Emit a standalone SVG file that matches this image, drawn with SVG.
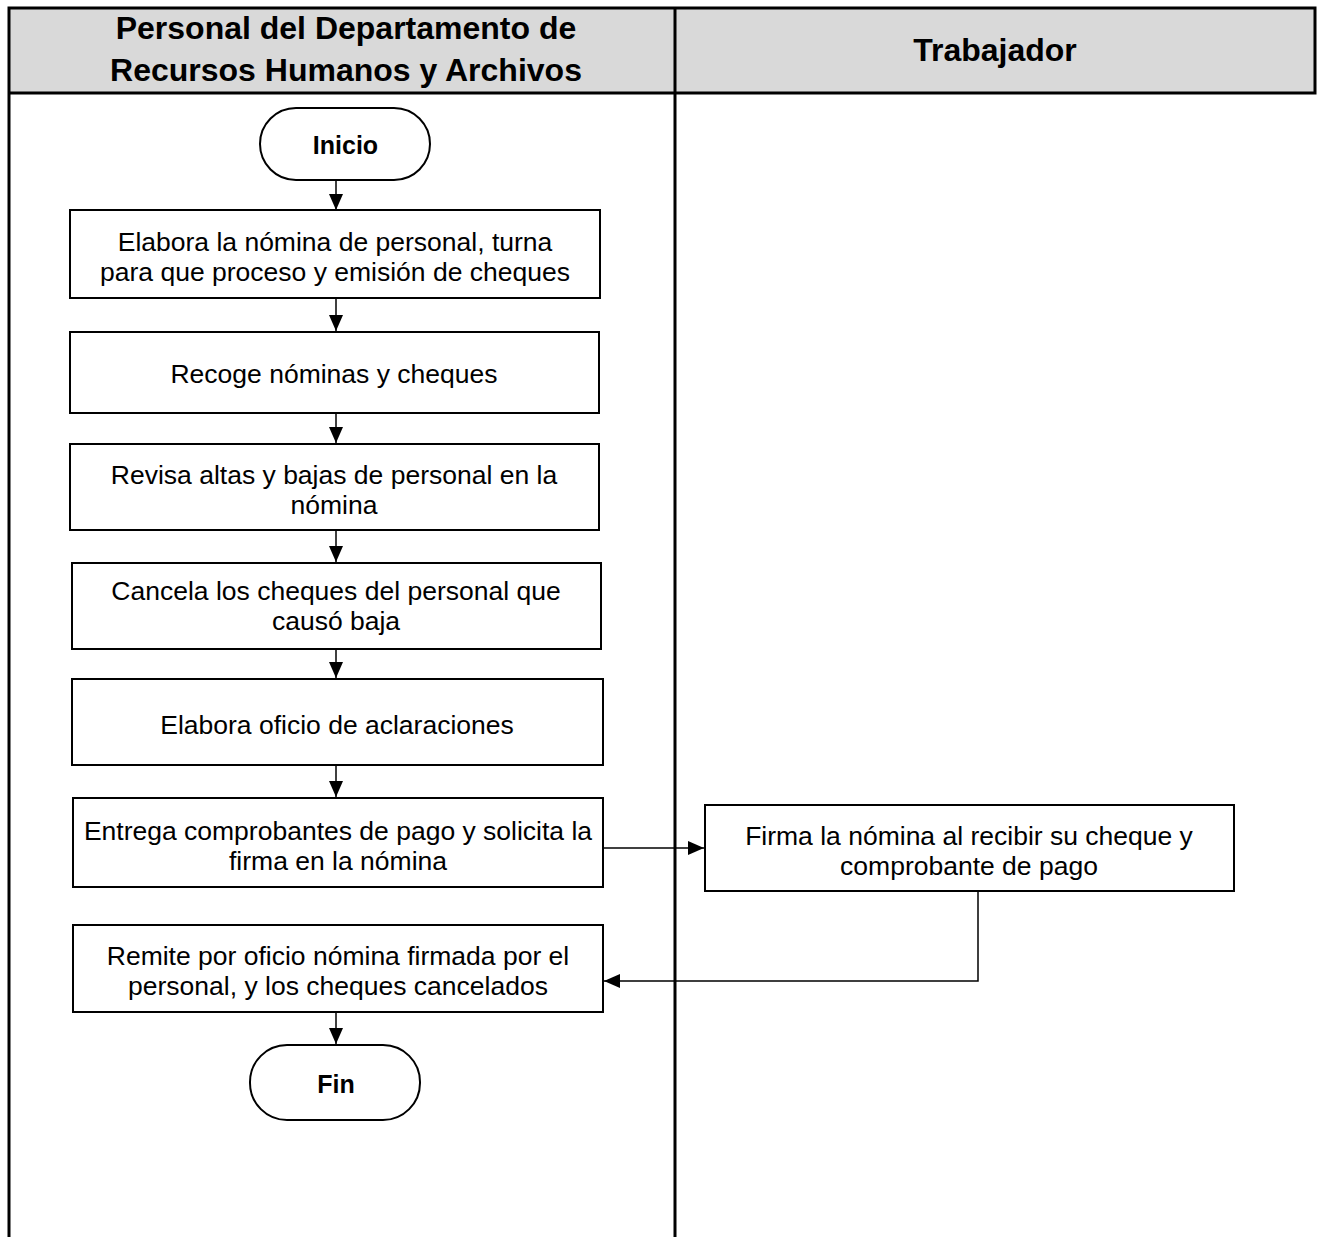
<svg xmlns="http://www.w3.org/2000/svg" width="1317" height="1237" viewBox="0 0 1317 1237">
<defs>
<marker id="ah" markerWidth="16" markerHeight="14" refX="16" refY="7" orient="auto" markerUnits="userSpaceOnUse" viewBox="0 0 16 14">
<path d="M0,0 L16,7 L0,14 Z" fill="#000"/>
</marker>
<style>
.t{font-family:"Liberation Sans",Arial,sans-serif;font-size:26.5px;fill:#000;text-anchor:middle}
.h{font-family:"Liberation Sans",Arial,sans-serif;font-size:32px;font-weight:bold;fill:#000;text-anchor:middle}
.b{font-family:"Liberation Sans",Arial,sans-serif;font-size:25px;font-weight:bold;fill:#000;text-anchor:middle}
.box{fill:#fff;stroke:#000;stroke-width:2}
.c{fill:none;stroke:#000;stroke-width:1.5;marker-end:url(#ah)}
.lane{fill:none;stroke:#000;stroke-width:3}
</style>
</defs>
<rect width="1317" height="1237" fill="#fff"/>
<g id="lanes">
<rect x="9" y="8" width="1306" height="85" fill="#d9d9d9" stroke="none"/>
<path class="lane" d="M9,1237 V8 H1315 V93 H9 M675,8 V1237"/>
<text class="h" x="346" y="39">Personal del Departamento de</text>
<text class="h" x="346" y="81">Recursos Humanos y Archivos</text>
<text class="h" x="995" y="61">Trabajador</text>
</g>
<g id="connectors">
<path class="c" d="M336,180 V210"/>
<path class="c" d="M336,298 V331"/>
<path class="c" d="M336,413 V443"/>
<path class="c" d="M336,530 V562"/>
<path class="c" d="M336,649 V678"/>
<path class="c" d="M336,765 V797"/>
<path class="c" d="M603,848 H704"/>
<path class="c" d="M978,891 V981 H604"/>
<path class="c" d="M336,1012 V1044"/>
</g>
<g id="inicio">
<rect class="box" x="260" y="108" width="170" height="72" rx="36"/>
<text class="b" x="345.5" y="154">Inicio</text>
</g>
<g id="n1">
<rect class="box" x="70" y="210" width="530" height="88"/>
<text class="t" x="335" y="251">Elabora la nómina de personal, turna</text>
<text class="t" x="335" y="281">para que proceso y emisión de cheques</text>
</g>
<g id="n2">
<rect class="box" x="70" y="332" width="529" height="81"/>
<text class="t" x="334" y="383">Recoge nóminas y cheques</text>
</g>
<g id="n3">
<rect class="box" x="70" y="444" width="529" height="86"/>
<text class="t" x="334" y="484">Revisa altas y bajas de personal en la</text>
<text class="t" x="334" y="514">nómina</text>
</g>
<g id="n4">
<rect class="box" x="72" y="563" width="529" height="86"/>
<text class="t" x="336" y="600">Cancela los cheques del personal que</text>
<text class="t" x="336" y="630">causó baja</text>
</g>
<g id="n5">
<rect class="box" x="72" y="679" width="531" height="86"/>
<text class="t" x="337" y="734">Elabora oficio de aclaraciones</text>
</g>
<g id="n6">
<rect class="box" x="73" y="798" width="530" height="89"/>
<text class="t" x="338" y="840">Entrega comprobantes de pago y solicita la</text>
<text class="t" x="338" y="870">firma en la nómina</text>
</g>
<g id="n7">
<rect class="box" x="705" y="805" width="529" height="86"/>
<text class="t" x="969" y="845">Firma la nómina al recibir su cheque y</text>
<text class="t" x="969" y="875">comprobante de pago</text>
</g>
<g id="n8">
<rect class="box" x="73" y="925" width="530" height="87"/>
<text class="t" x="338" y="965">Remite por oficio nómina firmada por el</text>
<text class="t" x="338" y="995">personal, y los cheques cancelados</text>
</g>
<g id="fin">
<rect class="box" x="250" y="1045" width="170" height="75" rx="37"/>
<text class="b" x="336" y="1093">Fin</text>
</g>
</svg>
